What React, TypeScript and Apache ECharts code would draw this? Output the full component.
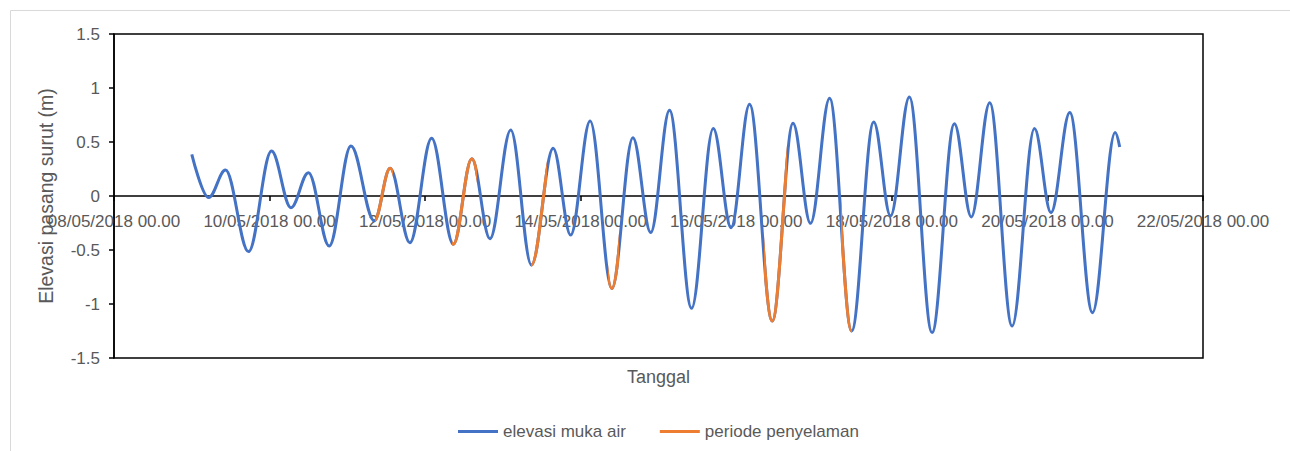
import React, { useEffect, useRef } from "react";
import * as echarts from "echarts";

// Tick labels of the time axis (every 48 hours from 08/05/2018 00.00)
const xTickLabels = [
  "08/05/2018 00.00",
  "10/05/2018 00.00",
  "12/05/2018 00.00",
  "14/05/2018 00.00",
  "16/05/2018 00.00",
  "18/05/2018 00.00",
  "20/05/2018 00.00",
  "22/05/2018 00.00",
];

// Turning points of the tide record: hours since 08/05/2018 00.00
const hoursSinceStart = [
  24.0, 29.2, 34.4, 41.5, 48.6, 54.6, 60.0, 66.4, 73.1, 80.3, 85.2, 91.3,
  98.0, 104.7, 110.4, 116.0, 122.4, 128.8, 135.5, 140.9, 146.9, 153.6, 160.1,
  165.6, 171.4, 178.2, 184.9, 190.4, 196.1, 203.1, 209.5, 214.9, 220.8, 227.6,
  234.4, 239.6, 245.4, 252.4, 259.3, 264.5, 270.2, 277.1, 284.0, 289.1, 294.9,
  301.9, 308.9, 310.3,
];

// Water elevation (m) at those points
const elevation = [
  0.386, -0.015, 0.24, -0.515, 0.417, -0.108, 0.216, -0.463, 0.463, -0.23,
  0.256, -0.432, 0.534, -0.447, 0.346, -0.395, 0.611, -0.639, 0.442, -0.361,
  0.694, -0.857, 0.54, -0.339, 0.793, -1.04, 0.624, -0.293, 0.849, -1.157,
  0.673, -0.253, 0.905, -1.25, 0.686, -0.185, 0.917, -1.265, 0.67, -0.194,
  0.864, -1.204, 0.624, -0.154, 0.772, -1.08, 0.587, 0.454,
];

// Diving periods (hours since 08/05/2018 00.00): [start, end]
const divePeriods: [number, number][] = [
  [80.5, 86.0],
  [104.4, 112.1],
  [128.6, 133.7],
  [152.5, 155.8],
  [200.5, 207.5],
  [224.4, 227.7],
];

const seriesNames = ["elevasi muka air", "periode penyelaman"];

const BLUE = "#4472C4";
const ORANGE = "#ED7D31";
const TEXT = "#595959";
const FONT = "Liberation Sans";

export default function App() {
  const ref = useRef<HTMLDivElement>(null);

  useEffect(() => {
    document.body.style.margin = "0";
    if (!ref.current) return;
    const chart = echarts.init(ref.current, undefined, { renderer: "svg" });
    const points = hoursSinceStart.map((h, i) => [h, elevation[i]]);

    chart.setOption({
      animation: false,
      textStyle: { fontFamily: FONT },
      graphic: [
        {
          type: "rect",
          shape: { x: 10.5, y: 10.5, width: 1300, height: 460 },
          style: { fill: "none", stroke: "#d9d9d9", lineWidth: 1 },
          silent: true,
        },
      ],
      grid: {
        left: 114,
        top: 34,
        right: 87,
        bottom: 93,
        outerBoundsMode: "none",
        containLabel: false,
        show: true,
        borderColor: "#000",
        borderWidth: 1.5,
        backgroundColor: "transparent",
      },
      legend: {
        left: 453,
        top: 418,
        icon: "rect",
        itemWidth: 40,
        itemHeight: 3,
        itemGap: 34,
        textStyle: { color: TEXT, fontSize: 17, fontFamily: FONT },
        data: seriesNames,
      },
      visualMap: {
        show: false,
        type: "piecewise",
        seriesIndex: 1,
        dimension: 0,
        pieces: divePeriods.map(([a, b]) => ({ gte: a, lte: b, color: ORANGE })),
        outOfRange: { color: "rgba(0,0,0,0)" },
      },
      xAxis: {
        type: "value",
        min: 0,
        max: 336,
        interval: 48,
        name: "Tanggal",
        nameLocation: "middle",
        nameGap: 10,
        nameTextStyle: { color: TEXT, fontSize: 18, fontFamily: FONT },
        axisLine: { onZero: true, lineStyle: { color: "#000", width: 1.5 } },
        axisTick: { show: true, inside: false, length: 5, lineStyle: { color: "#000", width: 1.5 } },
        axisLabel: {
          color: TEXT,
          fontSize: 17,
          fontFamily: FONT,
          margin: -145,
          formatter: (v: number) => xTickLabels[Math.round(v / 48)] ?? "",
        },
        splitLine: { show: false },
      },
      yAxis: {
        type: "value",
        min: -1.5,
        max: 1.5,
        interval: 0.5,
        name: "Elevasi pasang surut (m)",
        nameLocation: "middle",
        nameGap: 58,
        nameTextStyle: { color: TEXT, fontSize: 19.5, fontFamily: FONT },
        axisLine: { show: true, onZero: false, lineStyle: { color: "#000", width: 1.5 } },
        axisTick: { show: true, inside: false, length: 5, lineStyle: { color: "#000", width: 1.5 } },
        axisLabel: { color: TEXT, fontSize: 17, fontFamily: FONT, margin: 14 },
        splitLine: { show: false },
      },
      series: [
        {
          name: seriesNames[0],
          type: "line",
          color: BLUE,
          data: points,
          smooth: 0.36,
          smoothMonotone: "x",
          symbol: "none",
          lineStyle: { width: 3 },
        },
        {
          name: seriesNames[1],
          type: "line",
          color: ORANGE,
          data: points,
          smooth: 0.36,
          smoothMonotone: "x",
          symbol: "none",
          lineStyle: { width: 3 },
        },
      ],
    });

    return () => chart.dispose();
  }, []);

  return <div ref={ref} style={{ width: 1290, height: 451 }} />;
}
